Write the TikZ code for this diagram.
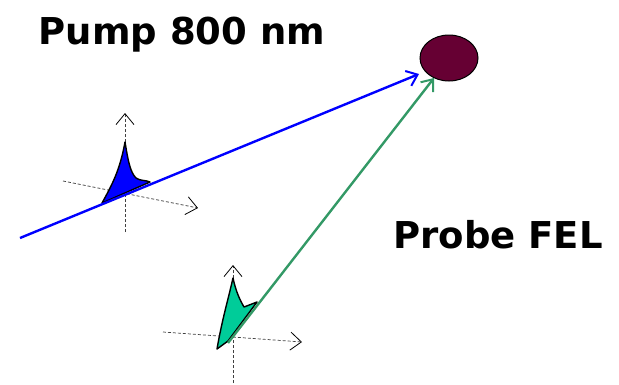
\documentclass[tikz,border=0pt]{standalone}
\usepackage{fontspec}
\setmainfont{DejaVu Sans}
\usetikzlibrary{arrows.meta,shapes.geometric}
\definecolor{maroon}{RGB}{102,0,51}
\definecolor{beamgreen}{RGB}{51,153,102}
\definecolor{pulsegreen}{RGB}{0,204,153}
\begin{document}
\begin{tikzpicture}[x=1pt,y=-1pt,
  lbl/.style={font=\fontsize{37}{40}\selectfont\bfseries, anchor=base, inner sep=0},
  axis/.style={densely dashed, line width=0.7pt, black!75, -{Straight Barb[length=11pt,width=18pt,line width=0.8pt,black]}},
  beam/.style={line width=2.4pt, -{Straight Barb[length=10pt,width=16pt,line width=2pt]}},
  pulse/.style={draw=black, line width=1.4pt, line join=round}]
\useasboundingbox (0,0) rectangle (619,384);
\node[lbl] (pump) at (182,44) {Pump 800 nm};
\node[lbl] (probe) at (498,248) {Probe FEL};
\node[ellipse, draw, line width=1pt, fill=maroon, minimum width=58pt, minimum height=46pt, inner sep=0] (target) at (449,58) {};
% blue pulse axes
\coordinate (bvb) at (125,232); \coordinate (bvt) at (125,113);
\coordinate (bhl) at (63,181); \coordinate (bhr) at (198,208);
\draw[axis] (bvb) -- (bvt);
\draw[axis] (bhl) -- (bhr);
% blue pulse
\draw[pulse, fill=blue] (102,203) .. controls (112,185) and (120,170) .. (125,142)
  .. controls (128,160) and (130,172) .. (136,178)
  .. controls (140,181) and (146,180) .. (150,182) -- cycle;
% green pulse axes
\coordinate (gvb) at (233,383); \coordinate (gvt) at (233,265);
\coordinate (ghl) at (163,332); \coordinate (ghr) at (302,342);
\draw[axis] (gvb) -- (gvt);
\draw[axis] (ghl) -- (ghr);
% green pulse
\draw[pulse, fill=pulsegreen] (217,349) .. controls (222,320) and (228,300) .. (233,278)
  .. controls (236,292) and (240,300) .. (244,307)
  -- (257,302) -- (228,341) -- cycle;
% beams
\coordinate (bstart) at (20,238); \coordinate (btip) at (419,74);
\coordinate (gstart) at (228,343); \coordinate (gtip) at (434,78);
\draw[beam, blue] (bstart) -- (btip);
\draw[beam, beamgreen] (gstart) -- (gtip);
\end{tikzpicture}
\end{document}
